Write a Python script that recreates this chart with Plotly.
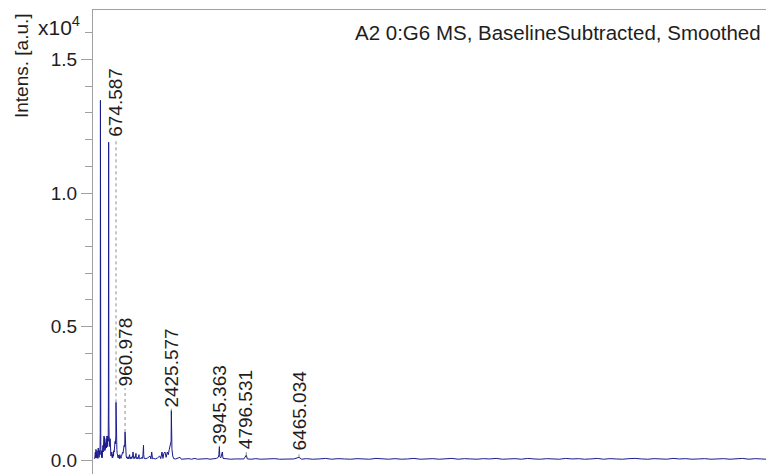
import plotly.graph_objects as go

# ---- data: m/z and intensity (units of 1e4) ----
mz = [
    0, 8, 14, 22, 30, 40, 48, 58, 66, 76, 85, 95, 104, 112, 120, 130, 140, 150,
    160, 170, 176, 179, 182, 185, 188, 194, 202, 210, 218, 228, 236, 246, 254,
    262, 270, 280, 288, 296, 304, 312, 320, 330, 338, 348, 356, 366, 374, 384,
    392, 402, 410, 420, 428, 434, 438, 442, 446, 450, 456, 464, 472, 480, 488,
    496, 506, 516, 526, 536, 546, 556, 566, 576, 586, 596, 606, 616, 626, 636,
    646, 656, 664, 670, 674.587, 679, 686, 694, 702, 712, 722, 732, 742, 752,
    762, 772, 782, 795, 805, 818, 830, 845, 860, 872, 884, 896, 908, 920, 932,
    942, 952, 960.978, 968, 976, 986, 996, 1008, 1020, 1035, 1050, 1065, 1080,
    1095, 1105, 1115, 1130, 1145, 1160, 1175, 1190, 1202, 1212, 1222, 1240,
    1255, 1270, 1285, 1297, 1307, 1317, 1335, 1350, 1365, 1380, 1392, 1402,
    1412, 1430, 1450, 1470, 1490, 1510, 1525, 1538, 1545, 1552, 1565, 1620,
    1680, 1750, 1780, 1804, 1830, 1870, 1920, 1990, 2060, 2090, 2130, 2160,
    2190, 2225, 2260, 2300, 2330, 2360, 2385, 2405, 2418, 2425.577, 2433, 2445,
    2470, 2500, 2560, 2620, 2700, 2740, 2820, 2900, 2980, 3060, 3170, 3250,
    3350, 3450, 3550, 3650, 3750, 3850, 3910, 3930, 3945.363, 3960, 3990, 4040,
    4060, 4150, 4300, 4450, 4600, 4720, 4796.531, 4830, 4950, 5100, 5250, 5400,
    5550, 5700, 5850, 6000, 6150, 6300, 6465.034, 6550, 6700, 6900, 7100, 7300,
    7500, 7700, 7900, 8100, 8300, 8500, 8700, 8900, 9100, 9300, 9500, 9700,
    9900, 10100, 10300, 10500, 10700, 10900, 11100, 11300, 11500, 11700, 11900,
    12100, 12300, 12500, 12700, 12900, 13100, 13300, 13500, 13700, 13900,
    14100, 14300, 14500, 14700, 14900, 15100, 15300, 15500, 15700, 15900,
    16100, 16300, 16500, 16700, 16900, 17100, 17300, 17500, 17700, 17900,
    18100, 18300, 18500, 18700, 18900, 19100, 19300, 19500, 19700, 19900,
    20100, 20300, 20500, 20700, 20900, 21100, 21240,
]
intensity = [
    0.004, 0.025, 0.006, 0.03, 0.008, 0.04, 0.01, 0.025, 0.007, 0.035, 0.012,
    0.02, 0.006, 0.045, 0.015, 0.03, 0.01, 0.035, 0.02, 0.05, 0.1, 0.77, 1.347,
    0.7, 0.12, 0.04, 0.02, 0.035, 0.01, 0.03, 0.008, 0.04, 0.02, 0.055, 0.03,
    0.075, 0.04, 0.09, 0.05, 0.085, 0.035, 0.065, 0.04, 0.075, 0.05, 0.08,
    0.045, 0.09, 0.06, 0.085, 0.05, 0.09, 0.07, 0.2, 0.53, 1.19, 0.52, 0.15,
    0.09, 0.06, 0.085, 0.05, 0.08, 0.045, 0.03, 0.015, 0.03, 0.01, 0.025,
    0.008, 0.02, 0.01, 0.03, 0.015, 0.035, 0.03, 0.05, 0.04, 0.07, 0.06,
    0.085, 0.09, 0.216, 0.085, 0.07, 0.06, 0.04, 0.025, 0.012, 0.02, 0.008,
    0.018, 0.006, 0.015, 0.005, 0.02, 0.008, 0.015, 0.006, 0.012, 0.02, 0.015,
    0.03, 0.025, 0.04, 0.035, 0.055, 0.05, 0.06, 0.105, 0.055, 0.04, 0.03,
    0.015, 0.008, 0.012, 0.005, 0.01, 0.004, 0.008, 0.012, 0.02, 0.005, 0.01,
    0.004, 0.012, 0.006, 0.01, 0.015, 0.03, 0.008, 0.005, 0.012, 0.006, 0.01,
    0.015, 0.025, 0.006, 0.005, 0.01, 0.004, 0.008, 0.012, 0.02, 0.005, 0.004,
    0.008, 0.005, 0.01, 0.006, 0.015, 0.03, 0.055, 0.02, 0.006, 0.005, 0.008,
    0.015, 0.004, 0.03, 0.005, 0.006, 0.004, 0.008, 0.015, 0.005, 0.03, 0.006,
    0.025, 0.03, 0.01, 0.03, 0.02, 0.04, 0.05, 0.06, 0.07, 0.185, 0.065, 0.04,
    0.015, 0.005, 0.004, 0.007, 0.01, 0.003, 0.004, 0.003, 0.005, 0.003, 0.006,
    0.003, 0.004, 0.003, 0.005, 0.003, 0.004, 0.006, 0.01, 0.02, 0.05, 0.012,
    0.008, 0.03, 0.006, 0.004, 0.003, 0.004, 0.003, 0.004, 0.018, 0.004,
    0.003, 0.005, 0.003, 0.004, 0.003, 0.005, 0.003, 0.004, 0.003, 0.004,
    0.01, 0.003, 0.005, 0.003, 0.004, 0.006, 0.003, 0.005, 0.004, 0.003, 0.005,
    0.004, 0.003, 0.006, 0.004, 0.003, 0.005, 0.003, 0.004, 0.006, 0.003,
    0.004, 0.005, 0.003, 0.004, 0.006, 0.003, 0.005, 0.004, 0.003, 0.005,
    0.004, 0.006, 0.003, 0.004, 0.005, 0.003, 0.006, 0.004, 0.003, 0.005,
    0.004, 0.003, 0.006, 0.004, 0.005, 0.003, 0.004, 0.006, 0.003, 0.005,
    0.004, 0.003, 0.005, 0.006, 0.004, 0.003, 0.005, 0.004, 0.003, 0.006,
    0.004, 0.005, 0.003, 0.004, 0.005, 0.003, 0.004, 0.005, 0.003, 0.004,
    0.006, 0.003, 0.005, 0.004, 0.003, 0.005,
]
n = min(len(mz), len(intensity))
mz, intensity = mz[:n], intensity[:n]

peak_labels = ["674.587", "960.978", "2425.577", "3945.363", "4796.531", "6465.034"]
peak_mz = [674.587, 960.978, 2425.577, 3945.363, 4796.531, 6465.034]
peak_height = [0.216, 0.105, 0.185, 0.05, 0.018, 0.01]

y_ticks = [0.0, 0.5, 1.0, 1.5]
y_tick_text = ["0.0", "0.5", "1.0", "1.5"]

title_text = "A2 0:G6 MS, BaselineSubtracted, Smoothed"
y_title = "Intens. [a.u.]"
y_scale = "x10<sup>4</sup>"

# ---- layout-only values ----
label_bottom = [1.205, 0.27, 0.192, 0.054, 0.036, 0.032]  # where each label sits
FONT = "Liberation Sans, Arial, sans-serif"
FS = 19
AXC = "#a0a0a0"
TXT = "#1e1e1e"

fig = go.Figure()
fig.add_trace(go.Scatter(x=mz, y=intensity, mode="lines",
                         line=dict(color="#1a1a8c", width=1),
                         hoverinfo="skip", showlegend=False))

for lab, m, h, yb in zip(peak_labels, peak_mz, peak_height, label_bottom):
    if yb > h:
        fig.add_shape(type="line", xref="x", yref="y", x0=m, x1=m, y0=h, y1=yb,
                      line=dict(color="#8c8c8c", width=1, dash="dot"))
    fig.add_annotation(x=m, y=yb, xref="x", yref="y", text=lab, textangle=-90,
                       showarrow=False, xanchor="center", yanchor="bottom",
                       borderpad=0, font=dict(family=FONT, size=FS, color=TXT))

fig.add_annotation(x=(763 - 93) / 673, y=(474 - 33) / 464, xref="paper", yref="paper",
                   text=title_text, showarrow=False, xanchor="right", yanchor="middle",
                   font=dict(family=FONT, size=20.5, color=TXT))
fig.add_annotation(x=(21 - 93) / 673, y=(474 - 66) / 464, xref="paper", yref="paper",
                   text=y_title, textangle=-90, showarrow=False,
                   xanchor="center", yanchor="middle",
                   font=dict(family=FONT, size=FS, color=TXT))
fig.add_annotation(x=(82 - 93) / 673, y=(474 - 26) / 464, xref="paper", yref="paper",
                   text=y_scale, showarrow=False, xanchor="right", yanchor="middle",
                   font=dict(family=FONT, size=21, color=TXT))

fig.update_layout(
    width=766, height=474,
    margin=dict(l=93, r=0, t=10, b=0, pad=0),
    paper_bgcolor="white", plot_bgcolor="white",
    font=dict(family=FONT, size=FS, color=TXT),
    xaxis=dict(range=[-53, 21240], side="top", showline=True, linecolor=AXC,
               linewidth=1, showticklabels=False, ticks="", showgrid=False,
               zeroline=False, fixedrange=True),
    yaxis=dict(range=[-0.0524, 1.6854], tickmode="array", tickvals=y_ticks,
               ticktext=y_tick_text, ticks="outside", ticklen=11, tickwidth=1,
               tickcolor=AXC, showline=True, linecolor=AXC, linewidth=1,
               showgrid=False, zeroline=False, fixedrange=True,
               tickfont=dict(family=FONT, size=FS, color=TXT),
               minor=dict(tickmode="linear", tick0=0, dtick=0.1, ticks="outside",
                          ticklen=7, tickcolor=AXC, tickwidth=1, showgrid=False)),
)

fig.write_html("out.html", config={"displayModeBar": False},
               post_script="document.body.style.margin='0px';"
                           "document.body.style.overflow='hidden';")
